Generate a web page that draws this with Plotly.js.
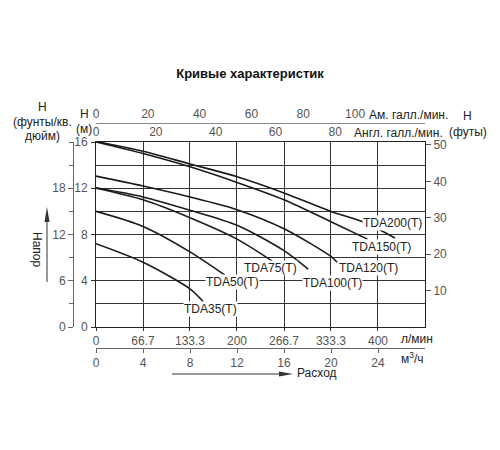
<!DOCTYPE html>
<html>
<head>
<meta charset="utf-8">
<script src="https://cdn.plot.ly/plotly-3.0.1.min.js"></script>
<style>html,body{margin:0;padding:0;background:#fff;}#chart{width:500px;height:450px;}</style>
</head>
<body>
<div id="chart"></div>
<script>
// ---- data (flow in l/min, head in m) ----
const tda200Flow = [0, 66.7, 133.3, 200, 266.7, 333.3, 383, 424];
const tda200Head = [16.05, 15.2, 14.1, 13.0, 11.6, 10.0, 9.0, 7.7];
const tda150Flow = [0, 66.7, 133.3, 200, 266.7, 333.3, 385];
const tda150Head = [16.0, 15.0, 13.85, 12.5, 11.0, 9.1, 7.6];
const tda120Flow = [0, 66.7, 133.3, 200, 266.7, 333.3, 342];
const tda120Head = [13.05, 12.2, 11.25, 10.15, 8.5, 6.1, 5.6];
const tda100Flow = [0, 66.7, 133.3, 200, 266.7, 301];
const tda100Head = [12.04, 11.25, 10.1, 8.8, 6.6, 5.0];
const tda75Flow = [0, 66.7, 133.3, 200, 250];
const tda75Head = [12.0, 11.0, 9.45, 7.6, 5.7];
const tda50Flow = [0, 66.7, 133.3, 185];
const tda50Head = [10.0, 8.7, 6.5, 4.4];
const tda35Flow = [0, 66.7, 133.3, 152];
const tda35Head = [7.2, 5.6, 3.3, 2.2];

const seriesNames = ["TDA200(T)", "TDA150(T)", "TDA120(T)", "TDA100(T)", "TDA75(T)", "TDA50(T)", "TDA35(T)"];
// label anchor points (l/min, m)
const labelFlow = [421, 405, 387, 335, 248, 193, 163];
const labelHead = [8.96, 6.9, 5.07, 3.82, 5.12, 3.9, 1.55];

const lpmTicks = [0, 66.7, 133.3, 200, 266.7, 333.3, 400];
const lpmTickText = ["0", "66.7", "133.3", "200", "266.7", "333.3", "400"];
const m3hTicks = [0, 4, 8, 12, 16, 20, 24];
const usGpmTicks = [0, 20, 40, 60, 80, 100];
const impGpmTicks = [0, 20, 40, 60, 80];
const headMTicks = [0, 4, 8, 12, 16];
const headFtTicks = [10, 20, 30, 40, 50];
const headPsiTicks = [0, 6, 12, 18];

const flows = [tda200Flow, tda150Flow, tda120Flow, tda100Flow, tda75Flow, tda50Flow, tda35Flow];
const heads = [tda200Head, tda150Head, tda120Head, tda100Head, tda75Head, tda50Head, tda35Head];

// ---- layout helpers (pixel -> paper) ----
const M = {l: 73, r: 75, t: 123, b: 102};
const PW = 500 - M.l - M.r, PH = 450 - M.t - M.b;
const px = x => (x - M.l) / PW;
const py = y => (450 - M.b - y) / PH;

const FONT = "Liberation Sans, Arial, sans-serif";
const TICKC = "#555";
const GRID = "#333";

const traces = flows.map((f, i) => ({
  type: "scatter", mode: "lines", x: f, y: heads[i], name: seriesNames[i],
  line: {color: "#1a1a1a", width: 1.6, shape: "spline", smoothing: 0.8},
  hoverinfo: "skip", showlegend: false, xaxis: "x", yaxis: "y"
}));
// empty traces to register the extra axes
[["x2","y"],["x3","y"],["x4","y"],["x","y2"],["x","y3"]].forEach(([xa, ya]) => {
  traces.push({type: "scatter", mode: "lines", x: [], y: [], xaxis: xa, yaxis: ya, showlegend: false, hoverinfo: "skip"});
});

const xDom = [px(96), 1];
const yDom = [py(327), py(142)];
const tickFont = {family: FONT, size: 12, color: TICKC};

const annotations = seriesNames.map((n, i) => ({
  x: labelFlow[i], y: labelHead[i], xref: "x", yref: "y", text: n, showarrow: false,
  font: {family: FONT, size: 12, color: "#222"}, bgcolor: "#fff", borderpad: 0
}));
function txt(text, x, y, anchor, opts) {
  return Object.assign({xref: "paper", yref: "paper", x: px(x), y: py(y), text: text, showarrow: false,
    xanchor: anchor || "center", yanchor: "middle", font: {family: FONT, size: 12, color: "#222"}}, opts || {});
}
annotations.push(
  txt("H", 42.5, 107), txt("(фунты/кв.", 42.5, 122), txt("дюйм)", 42.5, 136),
  txt("H", 84, 114), txt("(м)", 84, 129),
  txt("Ам. галл./мин.", 367, 115, "left"),
  txt("Англ. галл./мин.", 352, 132.5, "left"),
  txt("H", 467, 116), txt("(футы)", 468, 132),
  txt("л/мин", 399, 339, "left"),
  txt("м<sup>3</sup>/ч", 399, 358, "left"),
  txt("Расход", 295, 373, "left"),
  txt("Напор", 37, 250, "center", {textangle: 90})
);

const shapes = [
  {type: "line", xref: "paper", yref: "paper", x0: px(47), x1: px(47), y0: py(282), y1: py(216), line: {color: "#333", width: 1}},
  {type: "path", xref: "paper", yref: "paper", path: `M ${px(47)} ${py(207)} L ${px(44.5)} ${py(222)} L ${px(49.5)} ${py(222)} Z`, fillcolor: "#333", line: {width: 0}},
  {type: "line", xref: "paper", yref: "paper", x0: px(172), x1: px(284), y0: py(374), y1: py(374), line: {color: "#333", width: 1}},
  {type: "path", xref: "paper", yref: "paper", path: `M ${px(293)} ${py(374)} L ${px(279)} ${py(371.5)} L ${px(279)} ${py(376.5)} Z`, fillcolor: "#333", line: {width: 0}}
];

const layout = {
  width: 500, height: 450, margin: M, paper_bgcolor: "#fff", plot_bgcolor: "#fff",
  font: {family: FONT},
  title: {text: "<b>Кривые характеристик</b>", font: {family: FONT, size: 13, color: "#111"},
          x: 0.5, xref: "container", y: 1 - 73 / 450, yref: "container", yanchor: "middle"},
  showlegend: false,
  xaxis: {domain: xDom, range: [0, 466.7], tickvals: lpmTicks, ticktext: lpmTickText,
          ticks: "outside", ticklen: 3, tickcolor: "#333", showgrid: true, gridcolor: GRID, gridwidth: 1,
          showline: true, linecolor: "#222", linewidth: 1, zeroline: false, tickfont: tickFont, fixedrange: true},
  xaxis2: {overlaying: "x", anchor: "free", position: 0, side: "bottom", range: [0, 28], tickvals: m3hTicks,
           ticks: "outside", ticklen: 4, tickcolor: "#666", showgrid: false, showline: true, linecolor: "#666",
           zeroline: false, tickfont: tickFont},
  xaxis3: {overlaying: "x", anchor: "y", side: "top", range: [0, 110], tickvals: impGpmTicks,
           ticks: "", showgrid: false, showline: true, linecolor: "#222", zeroline: false, tickfont: tickFont},
  xaxis4: {overlaying: "x", anchor: "free", position: 1, side: "top", range: [0, 127], tickvals: usGpmTicks,
           ticks: "", showgrid: false, showline: true, linecolor: "#888", zeroline: false, tickfont: tickFont},
  yaxis: {domain: yDom, range: [0, 16], tickvals: headMTicks, ticks: "outside", ticklen: 4, tickcolor: "#333",
          showgrid: true, gridcolor: GRID, gridwidth: 1,
          minor: {dtick: 2, tick0: 0, showgrid: true, gridcolor: GRID, gridwidth: 1, ticks: ""},
          showline: true, linecolor: "#222", zeroline: false, tickfont: tickFont, ticklabelstandoff: 1},
  yaxis2: {overlaying: "y", side: "right", anchor: "x", range: [0, 50.8], tickvals: headFtTicks,
           ticks: "outside", ticklen: 5, tickcolor: "#555", showgrid: false, showline: true, linecolor: "#222",
           zeroline: false, tickfont: tickFont},
  yaxis3: {overlaying: "y", anchor: "free", position: 0, side: "left", range: [0, 24], tickvals: headPsiTicks,
           ticks: "outside", ticklen: 5, tickcolor: "#666",
           minor: {dtick: 3, tick0: 0, ticks: "outside", ticklen: 4, tickcolor: "#666", showgrid: false},
           showgrid: false, showline: true, linecolor: "#666", zeroline: false, tickfont: tickFont},
  annotations: annotations,
  shapes: shapes
};

Plotly.newPlot("chart", traces, layout, {staticPlot: true, displayModeBar: false});
</script>
</body>
</html>
